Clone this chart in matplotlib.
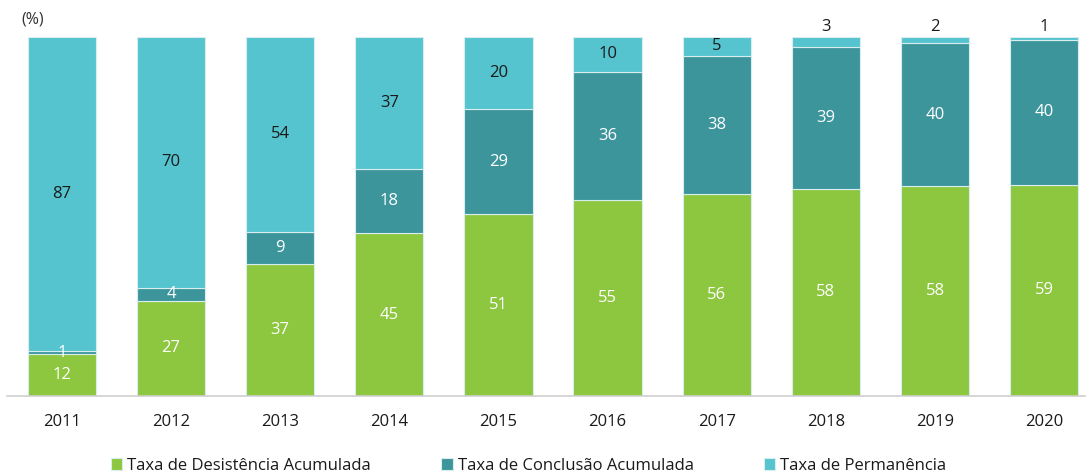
import matplotlib.pyplot as plt
import numpy as np

years = ["2011", "2012", "2013", "2014", "2015", "2016", "2017", "2018", "2019", "2020"]
desistencia = [11.6, 26.6, 36.9, 45.4, 50.6, 54.6, 56.4, 57.7, 58.4, 58.9]
conclusao = [1.0, 3.6, 8.9, 17.8, 29.4, 35.7, 38.4, 39.4, 39.9, 40.2]
permanencia = [87.4, 69.8, 54.2, 36.8, 20.0, 9.7, 5.2, 2.9, 1.7, 0.9]

series = [
    ("Taxa de Desistência Acumulada", desistencia, "#8dc63f", "white"),
    ("Taxa de Conclusão Acumulada", conclusao, "#3d959c", "white"),
    ("Taxa de Permanência", permanencia, "#55c4cf", "#1a1a1a"),
]

plt.rcParams['font.family'] = ['Open Sans', 'DejaVu Sans']
FS = 12

fig = plt.figure(figsize=(10.86, 4.74), dpi=100)
ax = fig.add_axes([7 / 1086, 1 - 396 / 474, 1079 / 1086, 359 / 474])

x = np.arange(len(years))
bottom = np.zeros(len(years))
for name, vals, color, tcolor in series:
    vals = np.array(vals)
    ax.bar(x, vals, 0.625, bottom=bottom, color=color, label=name,
           edgecolor="#d8eeee", linewidth=0.8)
    for xi, b, v in zip(x, bottom, vals):
        if v < 4.5 and name == "Taxa de Permanência":
            # small values go above the bar
            ax.text(xi, 102.7, f"{v:.0f}", ha="center", va="center",
                    color="#1a1a1a", fontsize=FS, clip_on=False)
        else:
            ax.text(xi, b + v / 2, f"{v:.0f}", ha="center", va="center",
                    color=tcolor, fontsize=FS)
    bottom += vals

ax.set_xlim(-0.502, 9.383)
ax.set_ylim(0, 100)
ax.set_xticks(x)
ax.set_xticklabels(years, fontsize=FS, color="#1a1a1a")
ax.tick_params(axis="x", length=0, pad=13)
ax.set_yticks([])
for s in ["top", "right", "left"]:
    ax.spines[s].set_visible(False)
ax.spines["bottom"].set_color("#d0d0d0")
ax.spines["bottom"].set_linewidth(1.2)

fig.text(21 / 1086, 1 - 20 / 474, "(%)", fontsize=11.5, color="#333333",
         ha="left", va="center")

leg = fig.legend(loc="center", bbox_to_anchor=(0.4866, 1 - 466 / 474), ncol=3,
                 frameon=False, fontsize=FS, handlelength=0.7, handleheight=0.7,
                 handletextpad=0.3, columnspacing=4.2)
for t in leg.get_texts():
    t.set_color("#1a1a1a")

fig.savefig("out.png", dpi=100)
